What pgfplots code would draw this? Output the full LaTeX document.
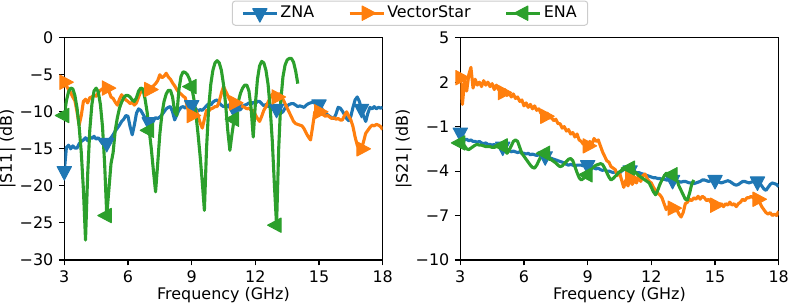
\documentclass[border=0pt]{standalone}
\usepackage{fontspec}
\setmainfont{DejaVu Sans}
\usepackage{pgfplots}
\usepackage{pgfplotstable}
\pgfplotsset{compat=1.18}
\definecolor{tabblue}{HTML}{1F77B4}
\definecolor{taborange}{HTML}{FF7F0E}
\definecolor{tabgreen}{HTML}{2CA02C}
\newcommand{\myfont}{\fontsize{16}{19}\selectfont}

\pgfplotstableread{
f zna vs ena
3.0 -18.0 -6.0 -10.5
3.1 -14.8 -6.5 -8.5
3.2 -14.5 -7.0 -7.3
3.3 -15.0 -7.4 -6.8
3.4 -14.6 -8.0 -6.9
3.5 -14.9 -8.5 -7.8
3.6 -14.9 -10.0 -9.5
3.7 -14.3 -11.8 -12.0
3.8 -14.0 -10.5 -15.5
3.9 -13.8 -8.6 -20.5
4.0 -13.5 -8.3 -27.3
4.1 -13.9 -8.8 -18.5
4.2 -13.4 -8.1 -12.5
4.3 -13.6 -8.0 -9.0
4.4 -13.3 -7.7 -7.2
4.5 -13.7 -7.9 -6.8
4.6 -13.5 -7.4 -7.3
4.7 -13.9 -7.1 -9.0
4.8 -14.3 -6.9 -12.0
4.9 -14.5 -6.8 -17.0
5.0 -14.2 -6.8 -24.0
5.1 -13.8 -7.2 -20.5
5.2 -13.5 -8.0 -17.0
5.3 -13.1 -8.2 -15.5
5.4 -12.6 -8.7 -12.5
5.5 -12.2 -9.1 -10.8
5.6 -11.8 -8.3 -9.5
5.7 -11.3 -7.7 -8.7
5.8 -11.0 -8.1 -8.1
5.9 -10.5 -8.4 -7.8
6.0 -10.6 -8.6 -7.8
6.1 -12.0 -8.9 -8.0
6.2 -13.1 -8.7 -8.4
6.3 -11.8 -9.1 -8.6
6.4 -10.2 -8.8 -8.1
6.5 -9.6 -8.0 -7.2
6.6 -9.8 -7.3 -6.8
6.7 -10.3 -7.1 -6.9
6.8 -10.8 -7.2 -8.2
6.9 -11.1 -6.9 -10.0
7.0 -11.4 -7.0 -12.5
7.1 -11.2 -6.7 -15.0
7.2 -11.0 -6.5 -18.0
7.3 -10.8 -6.2 -20.8
7.4 -10.9 -5.8 -17.0
7.5 -10.7 -5.0 -13.0
7.6 -10.4 -5.4 -10.3
7.7 -10.0 -5.2 -8.6
7.8 -9.6 -4.8 -7.6
7.9 -9.4 -5.3 -7.1
8.0 -9.3 -5.6 -7.1
8.1 -10.0 -6.1 -8.0
8.2 -11.1 -6.5 -10.0
8.3 -10.4 -7.0 -10.5
8.4 -9.8 -7.4 -7.0
8.5 -9.4 -7.6 -5.2
8.6 -9.3 -7.9 -4.6
8.7 -9.5 -8.1 -4.7
8.8 -9.2 -9.4 -5.0
8.9 -9.4 -10.2 -5.6
9.0 -9.1 -10.5 -6.6
9.1 -9.3 -10.3 -8.2
9.2 -9.6 -9.8 -10.3
9.3 -9.9 -10.5 -13.0
9.4 -9.7 -11.5 -16.0
9.5 -9.8 -12.2 -19.5
9.6 -9.5 -11.0 -23.3
9.7 -9.2 -9.8 -15.0
9.8 -8.9 -9.9 -9.5
9.9 -9.1 -9.6 -6.3
10.0 -8.7 -9.5 -4.4
10.1 -8.5 -9.3 -3.4
10.2 -8.4 -9.3 -3.1
10.3 -8.8 -8.6 -3.4
10.4 -9.1 -7.5 -4.4
10.5 -9.3 -6.6 -6.3
10.6 -9.2 -7.2 -9.0
10.7 -9.3 -7.8 -12.5
10.8 -9.0 -8.4 -15.2
10.9 -9.4 -8.6 -13.0
11.0 -9.6 -8.8 -11.0
11.1 -9.5 -9.0 -10.0
11.2 -9.8 -8.9 -8.6
11.3 -9.7 -9.0 -7.5
11.4 -9.3 -9.3 -6.8
11.5 -9.1 -9.4 -6.4
11.6 -9.0 -9.6 -6.4
11.7 -8.8 -9.5 -7.2
11.8 -9.0 -9.8 -9.5
11.9 -8.7 -9.8 -13.4
12.0 -8.9 -10.4 -9.0
12.1 -8.6 -10.9 -5.6
12.2 -8.6 -11.3 -3.8
12.3 -8.9 -10.6 -3.2
12.4 -9.2 -9.8 -3.4
12.5 -9.0 -9.3 -4.4
12.6 -9.3 -8.7 -6.3
12.7 -9.1 -8.1 -9.5
12.8 -9.3 -7.6 -14.0
12.9 -9.4 -7.8 -20.0
13.0 -9.6 -8.0 -25.3
13.1 -9.9 -7.6 -15.0
13.2 -10.2 -7.6 -8.5
13.3 -10.0 -8.3 -5.3
13.4 -9.5 -8.9 -3.7
13.5 -9.2 -9.5 -3.0
13.6 -9.0 -10.1 -2.8
13.7 -8.9 -10.7 -2.8
13.8 -8.9 -11.3 -3.3
13.9 -9.1 -11.6 -4.5
14.0 -9.3 -11.7 -6.2
14.1 -9.2 -11.8 nan
14.2 -9.3 -11.9 nan
14.3 -9.4 -12.3 nan
14.4 -9.1 -12.9 nan
14.5 -8.9 -13.4 nan
14.6 -8.8 -13.8 nan
14.7 -8.7 -12.0 nan
14.8 -8.6 -10.0 nan
14.9 -8.7 -9.9 nan
15.0 -9.0 -10.0 nan
15.1 -9.4 -10.3 nan
15.2 -9.9 -10.4 nan
15.3 -10.2 -10.6 nan
15.4 -10.4 -10.5 nan
15.5 -10.6 -10.7 nan
15.6 -10.8 -10.9 nan
15.7 -10.9 -10.8 nan
15.8 -10.3 -11.0 nan
15.9 -9.4 -10.9 nan
16.0 -9.5 -11.1 nan
16.1 -9.9 -11.1 nan
16.2 -10.4 -10.5 nan
16.3 -10.9 -10.0 nan
16.4 -11.2 -10.6 nan
16.5 -10.6 -11.1 nan
16.6 -9.4 -12.0 nan
16.7 -8.4 -13.4 nan
16.8 -8.0 -14.5 nan
16.9 -8.6 -15.0 nan
17.0 -9.6 -15.0 nan
17.1 -10.6 -14.0 nan
17.2 -11.3 -12.9 nan
17.3 -10.2 -12.5 nan
17.4 -9.4 -12.1 nan
17.5 -9.6 -11.8 nan
17.6 -9.3 -11.9 nan
17.7 -9.6 -11.7 nan
17.8 -9.4 -11.8 nan
17.9 -9.5 -12.0 nan
18.0 -9.4 -12.4 nan
}\SoneOne

\pgfplotstableread{
f zna vs ena
3.0 -1.4 2.3 -2.1
3.1 -1.8 0.5 -2.15
3.2 -1.9 2.1 -2.3
3.3 -1.85 1.4 -2.5
3.4 -1.95 2.5 -2.55
3.5 -1.9 3.0 -2.45
3.6 -2.0 1.6 -2.35
3.7 -2.0 2.2 -2.25
3.8 -2.05 1.8 -2.2
3.9 -2.0 2.0 -2.25
4.0 -2.1 1.7 -2.25
4.1 -2.15 2.1 -2.3
4.2 -2.1 1.8 -2.35
4.3 -2.2 2.0 -2.35
4.4 -2.2 1.7 -2.35
4.5 -2.25 1.9 -2.4
4.6 -2.2 1.5 -2.4
4.7 -2.3 1.8 -2.35
4.8 -2.3 1.5 -2.35
4.9 -2.35 1.6 -2.3
5.0 -2.35 1.3 -2.3
5.1 -2.45 1.5 -2.55
5.2 -2.5 1.1 -2.8
5.3 -2.6 1.3 -2.6
5.4 -2.7 1.0 -2.3
5.5 -2.65 1.2 -2.0
5.6 -2.7 0.9 -1.9
5.7 -2.75 1.0 -2.0
5.8 -2.7 0.7 -2.4
5.9 -2.8 0.8 -2.8
6.0 -2.8 0.4 -3.0
6.1 -2.85 0.6 -3.2
6.2 -2.8 0.3 -3.4
6.3 -2.9 0.5 -3.6
6.4 -2.85 0.2 -3.75
6.5 -2.9 0.4 -3.8
6.6 -2.95 0.1 -3.6
6.7 -2.9 0.2 -3.3
6.8 -2.95 -0.1 -3.0
6.9 -2.9 0.0 -2.9
7.0 -3.0 -0.3 -2.8
7.1 -3.05 -0.1 -2.9
7.2 -3.1 -0.4 -3.1
7.3 -3.15 -0.4 -3.25
7.4 -3.2 -0.6 -3.35
7.5 -3.25 -0.5 -3.45
7.6 -3.3 -0.8 -3.6
7.7 -3.35 -0.8 -3.7
7.8 -3.4 -1.1 -3.65
7.9 -3.45 -1.0 -3.5
8.0 -3.55 -1.3 -3.35
8.1 -3.6 -1.2 -3.2
8.2 -3.55 -1.5 -3.15
8.3 -3.6 -1.4 -3.3
8.4 -3.65 -1.7 -3.7
8.5 -3.6 -1.5 -4.1
8.6 -3.6 -1.9 -4.45
8.7 -3.6 -2.0 -4.6
8.8 -3.65 -2.2 -4.5
8.9 -3.6 -2.1 -4.35
9.0 -3.6 -2.3 -4.25
9.1 -3.7 -2.0 -4.0
9.2 -3.75 -2.2 -3.8
9.3 -3.8 -1.8 -3.7
9.4 -3.85 -2.0 -3.6
9.5 -3.8 -1.9 -3.55
9.6 -3.9 -2.3 -3.5
9.7 -3.95 -2.7 -3.55
9.8 -3.9 -3.0 -3.8
9.9 -4.0 -3.3 -4.1
10.0 -4.0 -3.4 -4.4
10.1 -4.05 -3.7 -4.6
10.2 -4.1 -3.8 -4.5
10.3 -4.05 -3.9 -4.35
10.4 -4.1 -4.3 -4.2
10.5 -4.15 -4.1 -4.05
10.6 -4.0 -4.6 -3.95
10.7 -3.9 -5.1 -3.9
10.8 -3.85 -4.6 -3.85
10.9 -3.85 -5.0 -3.8
11.0 -3.95 -4.5 -3.8
11.1 -4.0 -4.9 -3.85
11.2 -4.05 -4.6 -4.0
11.3 -4.1 -4.8 -4.15
11.4 -4.1 -4.4 -4.3
11.5 -4.15 -4.7 -4.4
11.6 -4.2 -4.3 -4.5
11.7 -4.25 -4.2 -4.6
11.8 -4.3 -4.5 -4.7
11.9 -4.35 -4.7 -4.8
12.0 -4.4 -4.8 -5.1
12.1 -4.45 -5.1 -5.4
12.2 -4.45 -5.3 -5.6
12.3 -4.5 -5.5 -5.3
12.4 -4.5 -5.6 -4.9
12.5 -4.55 -5.8 -4.6
12.6 -4.55 -6.2 -4.35
12.7 -4.6 -6.6 -4.15
12.8 -4.6 -6.4 -4.15
12.9 -4.6 -6.6 -4.2
13.0 -4.6 -6.5 -4.25
13.1 -4.65 -6.7 -4.3
13.2 -4.7 -6.6 -4.6
13.3 -4.7 -6.9 -5.0
13.4 -4.75 -7.1 -5.3
13.5 -4.7 -6.8 -5.6
13.6 -4.7 -6.2 -5.9
13.7 -4.75 -6.1 -5.95
13.8 -4.8 -5.9 -5.5
13.9 -4.8 -6.0 -4.9
14.0 -4.85 -5.8 -4.6
14.1 -4.8 -5.9 nan
14.2 -4.75 -5.7 nan
14.3 -4.7 -5.9 nan
14.4 -4.6 -5.7 nan
14.5 -4.6 -5.8 nan
14.6 -4.65 -6.0 nan
14.7 -4.7 -5.9 nan
14.8 -4.65 -6.1 nan
14.9 -4.6 -6.2 nan
15.0 -4.6 -6.3 nan
15.1 -4.65 -6.4 nan
15.2 -4.75 -6.3 nan
15.3 -4.8 -6.2 nan
15.4 -4.75 -6.4 nan
15.5 -4.7 -6.2 nan
15.6 -4.65 -6.3 nan
15.7 -4.7 -6.1 nan
15.8 -4.8 -6.3 nan
15.9 -4.9 -6.2 nan
16.0 -4.95 -6.4 nan
16.1 -4.9 -6.2 nan
16.2 -4.8 -6.1 nan
16.3 -4.7 -5.9 nan
16.4 -4.7 -6.0 nan
16.5 -4.75 -5.8 nan
16.6 -4.8 -5.8 nan
16.7 -4.75 -5.7 nan
16.8 -4.7 -5.8 nan
16.9 -4.7 -5.8 nan
17.0 -4.7 -5.9 nan
17.1 -4.8 -6.1 nan
17.2 -5.0 -6.4 nan
17.3 -5.2 -6.6 nan
17.4 -5.3 -6.8 nan
17.5 -5.1 -6.9 nan
17.6 -4.9 -6.8 nan
17.7 -4.8 -7.0 nan
17.8 -4.85 -6.9 nan
17.9 -4.9 -7.0 nan
18.0 -5.05 -6.7 nan
}\STwoOne

\pgfplotsset{
  myax/.style={
    scale only axis, width=318.4bp, height=222.3bp,
    font=\myfont,
    xmin=3, xmax=18, xtick={3,6,9,12,15,18},
    xticklabels={3,6,9,12,15,18},
    axis line style={line width=1.1bp, black},
    tick align=outside, xtick pos=bottom, ytick pos=left,
    major tick length=5.4bp,
    tick style={black, line width=1.1bp},
    tick label style={font=\myfont},
    xticklabel style={inner sep=0pt, yshift=-5.4bp},
    yticklabel style={inner sep=0pt, xshift=-5.4bp},
    xlabel={Frequency (GHz)},
    label style={font=\myfont},
    xlabel style={at={(axis description cs:0.5,-0.157)}, anchor=center, inner sep=0pt},
    ylabel style={at={(axis description cs:-0.1775,0.5)}, anchor=center, inner sep=0pt},
    unbounded coords=discard,
    legend image code/.code={\draw[mark repeat=2,mark phase=2] plot coordinates {(0bp,0bp) (17bp,0bp) (34bp,0bp)};},
  },
  zna/.style={tabblue, line width=3.1bp, line join=round, mark=triangle*, mark repeat=20, mark phase=1, mark size=9bp, mark options={solid, rotate=180, xscale=0.92, line width=1bp, fill=tabblue, draw=tabblue}},
  vs/.style={taborange, line width=3.1bp, line join=round, mark=triangle*, mark repeat=20, mark phase=1, mark size=9bp, mark options={solid, rotate=-90, xscale=0.92, line width=1bp, fill=taborange, draw=taborange}},
  ena/.style={tabgreen, line width=3.1bp, line join=round, mark=triangle*, mark repeat=20, mark phase=1, mark size=9bp, mark options={solid, rotate=90, xscale=0.92, line width=1bp, fill=tabgreen, draw=tabgreen}},
}

\begin{document}
\myfont
\begin{tikzpicture}
\begin{axis}[myax, at={(64.3bp,46bp)}, anchor=south west,
  ymin=-30, ymax=0, ytick={-30,-25,-20,-15,-10,-5,0},
  yticklabels={−30,−25,−20,−15,−10,−5,0},
  ylabel={|S11| (dB)},
  legend columns=3,
  legend style={at={(1.0858,1.167)}, anchor=north, draw=black!20, line width=1bp,
    rounded corners=3bp, inner xsep=9bp, inner ysep=3bp,
    /tikz/every even column/.append style={column sep=32bp},
    cells={anchor=west}, font=\myfont},
]
\addplot[zna] table[x=f, y=zna] {\SoneOne};
\addlegendentry{ZNA}
\addplot[vs] table[x=f, y=vs] {\SoneOne};
\addlegendentry{VectorStar}
\addplot[ena] table[x=f, y=ena] {\SoneOne};
\addlegendentry{ENA}
\end{axis}
\begin{axis}[myax, at={(460.3bp,46bp)}, anchor=south west,
  ymin=-10, ymax=5, ytick={-10,-7,-4,-1,2,5},
  yticklabels={−10,−7,−4,−1,2,5},
  ylabel={|S21| (dB)},
]
\addplot[zna] table[x=f, y=zna] {\STwoOne};
\addplot[vs] table[x=f, y=vs] {\STwoOne};
\addplot[ena] table[x=f, y=ena] {\STwoOne};
\end{axis}
\pgfresetboundingbox
\path[use as bounding box] (0,0) rectangle (789bp,306bp);
\end{tikzpicture}
\end{document}
